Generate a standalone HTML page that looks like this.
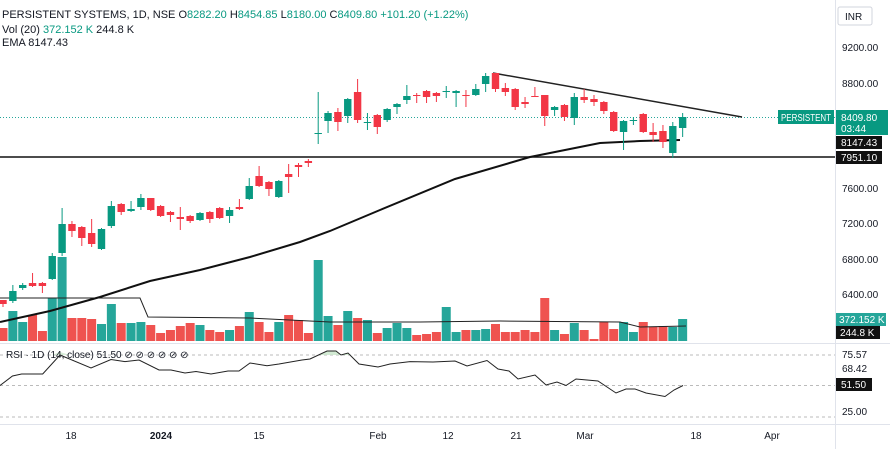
<!DOCTYPE html>
<html><head><meta charset="utf-8"><style>
body{margin:0;background:#fff;}
svg{display:block;font-family:"Liberation Sans",sans-serif;}
</style></head><body>
<svg id="s" width="890" height="449" xmlns="http://www.w3.org/2000/svg">
<rect width="890" height="449" fill="#fff"/>
<line x1="835.5" y1="0" x2="835.5" y2="449" stroke="#e0e3eb"/>
<line x1="0" y1="343.5" x2="890" y2="343.5" stroke="#e0e3eb"/>
<line x1="0" y1="424.5" x2="890" y2="424.5" stroke="#e0e3eb"/>
<g id="vol"></g>
<polyline fill="none" stroke="#222" stroke-width="1" points="0,298 140,298 148,317 250,318 330,322 420,322 500,321 620,322 640,327 686,326"/>
<line x1="0" y1="157" x2="835" y2="157" stroke="#111" stroke-width="1.5"/>
<line x1="0" y1="117.5" x2="835" y2="117.5" stroke="#26a69a" stroke-width="1" stroke-dasharray="1,2"/>
<line x1="493" y1="73" x2="742" y2="117" stroke="#222" stroke-width="1.5"/>
<polyline fill="none" stroke="#111" stroke-width="2" points="0,322 50,311 100,297 150,281 200,270 250,257 300,242 330,231 380,210 455,179 530,157 600,143 640,141 680,140"/>
<g id="cdl"></g>
<g font-size="11" fill="#131722">
<text x="2" y="18">PERSISTENT SYSTEMS, 1D, NSE <tspan fill="#131722">O</tspan><tspan fill="#089981">8282.20</tspan> H<tspan fill="#089981">8454.85</tspan> L<tspan fill="#089981">8180.00</tspan> C<tspan fill="#089981">8409.80</tspan> <tspan fill="#089981">+101.20 (+1.22%)</tspan></text>
<text x="2" y="33">Vol (20) <tspan fill="#089981">372.152 K</tspan>  244.8 K</text>
<text x="2" y="46">EMA  8147.43</text>
</g>
<g font-size="10" fill="#131722">
<text x="842" y="51">9200.00</text><text x="842" y="87">8800.00</text>
<text x="842" y="192">7600.00</text><text x="842" y="227">7200.00</text>
<text x="842" y="263">6800.00</text><text x="842" y="298">6400.00</text>
<text x="842" y="358">75.57</text><text x="842" y="372">68.42</text><text x="842" y="415">25.00</text>
</g>
<rect x="838" y="7" width="34" height="18" rx="2" fill="#fff" stroke="#d1d4dc"/>
<text x="845" y="20" font-size="10" fill="#131722">INR</text>
<rect x="778" y="110" width="56" height="14" fill="#089981"/>
<text x="781" y="121" font-size="10" fill="#fff" textLength="50" lengthAdjust="spacingAndGlyphs">PERSISTENT</text>
<rect x="836" y="110" width="52" height="25" fill="#089981"/>
<text x="841" y="121" font-size="10" fill="#fff">8409.80</text>
<text x="841" y="132" font-size="10" fill="#fff">03:44</text>
<rect x="836" y="136" width="46" height="13" fill="#111"/>
<text x="841" y="146" font-size="10" fill="#fff">8147.43</text>
<rect x="836" y="151" width="46" height="13" fill="#111"/>
<text x="841" y="161" font-size="10" fill="#fff">7951.10</text>
<rect x="836" y="313" width="50" height="13" fill="#26a69a"/>
<text x="839" y="323" font-size="10" fill="#fff">372.152 K</text>
<rect x="836" y="326" width="44" height="13" fill="#111"/>
<text x="840" y="336" font-size="10" fill="#fff">244.8 K</text>
<line x1="0" y1="355" x2="835" y2="355" stroke="#bbb" stroke-dasharray="3,3"/>
<line x1="0" y1="385.5" x2="835" y2="385.5" stroke="#bbb" stroke-dasharray="3,3"/>
<line x1="0" y1="417" x2="835" y2="417" stroke="#bbb" stroke-dasharray="3,3"/>
<polygon fill="#c8e6c9" opacity="0.7" points="52,355 60,352 70,355"/>
<polygon fill="#c8e6c9" opacity="0.8" points="318,355 327,351 336,351 341,355 345,354 348,353 351,355"/>
<polyline id="rsi" fill="none" stroke="#222" stroke-width="1" points="0,385.5 12.5,376 21.6,374 42.7,374 60,355 91,368 111,359.5 125,361.6 139,360 159,370 171,370 185,373 196,371.5 211,374 228,371 239,371 250,363 267,365.7 279,364 302,360 310,359 327,351 336,351 341,355 348,353 359,364 378,367 390,364 410,361.6 433,362 455,361 467,366 487,360.5 498,369 509,371 518,379 535,375 546,385 557,382 566,385.5 576,379 598,381 616,393 626,389 635,389 646,393 665,396.5 674,390 683,385.5"/>
<text x="6" y="358" font-size="10" fill="#131722">RSI · 1D (14, close)  51.50  ⊘  ⊘  ⊘  ⊘  ⊘  ⊘</text>
<rect x="836" y="378" width="36" height="13" fill="#111"/>
<text x="841" y="388" font-size="10" fill="#fff">51.50</text>
<g font-size="10" fill="#131722" text-anchor="middle">
<text x="71" y="439">18</text><text x="161" y="439" font-weight="bold">2024</text>
<text x="259" y="439">15</text><text x="378" y="439">Feb</text><text x="448" y="439">12</text>
<text x="516" y="439">21</text><text x="585" y="439">Mar</text><text x="696" y="439">18</text><text x="772" y="439">Apr</text>
</g>
</svg>
<script>
var C=[[300,304,300,307,0],[291,301,285,303,1],[285,288,283,290,1],[283,286,273,287,0],[283,286,282,293,0],[256,279,253,280,1],[224,253,208,256,1],[224,231,221,237,0],[227,238,226,246,0],[233,244,219,247,0],[229,249,228,250,1],[206,226,201,228,1],[204,212,203,215,0],[209,211,201,212,1],[198,207,194,210,1],[198,210,198,211,0],[206,216,205,217,0],[212,215,211,222,0],[217,219,207,230,0],[216,221,215,223,0],[213,220,212,221,1],[212,219,211,223,0],[208,218,207,219,0],[210,216,207,223,1],[207,209,199,210,0],[186,199,178,200,1],[176,186,166,187,0],[182,189,181,196,0],[181,197,180,198,1],[174,177,164,193,0],[165,167,163,177,0],[161,163,159,167,0],[133,134,92,144,1],[113,121,111,133,1],[112,122,108,131,0],[99,116,98,123,1],[92,120,79,123,0],[122,123,113,130,1],[115,127,114,134,0],[109,120,108,122,1],[104,107,103,114,1],[96,100,85,104,1],[95,96,93,103,0],[91,97,90,103,0],[93,96,92,102,0],[91,92,86,98,1],[91,93,90,107,1],[95,96,90,107,0],[89,95,84,96,1],[76,84,73,92,1],[73,89,73,92,0],[88,92,83,96,0],[89,107,88,110,0],[102,104,97,108,0],[96,97,87,97,0],[95,116,95,126,0],[107,110,106,116,1],[105,117,104,121,0],[97,118,93,125,1],[97,100,89,103,0],[99,102,95,106,0],[102,111,101,114,0],[112,131,111,132,0],[121,132,120,150,1],[120,121,117,125,1],[114,132,113,133,0],[132,135,123,142,0],[131,142,125,148,0],[126,153,122,158,1],[117,128,113,137,1]];
var V=[328,311,322,315,331,298,257,318,318,319,324,304,323,323,322,325,333,330,326,323,325,330,332,330,326,312,322,332,322,315,320,333,260,316,325,311,318,320,333,328,323,328,335,334,332,307,332,330,330,329,324,332,332,330,332,298,330,334,323,330,339,322,329,322,332,322,327,326,327,319];
var s='',v='';
for(var i=0;i<C.length;i++){var x=3+9.85*i,c=C[i],col=c[4]?'#089981':'#f23645';
s+='<line x1="'+x+'" y1="'+c[2]+'" x2="'+x+'" y2="'+c[3]+'" stroke="'+col+'" stroke-width="1"/>';
var h=Math.max(c[1]-c[0],1);s+='<rect x="'+(x-3.7)+'" y="'+c[0]+'" width="7.4" height="'+h+'" fill="'+col+'"/>';
var vc=c[4]?'#26a69a':'#ef5350';v+='<rect x="'+(x-4.5)+'" y="'+V[i]+'" width="9" height="'+(341-V[i])+'" fill="'+vc+'"/>';}
document.getElementById('cdl').innerHTML=s;document.getElementById('vol').innerHTML=v;
</script>
</body></html>
